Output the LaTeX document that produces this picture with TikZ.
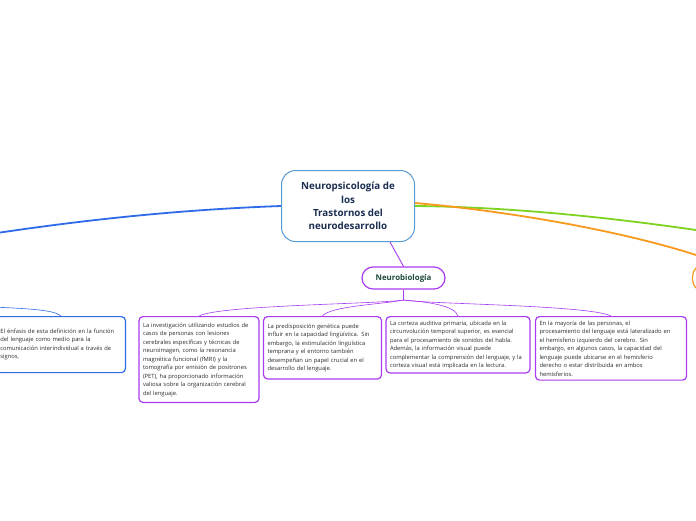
\documentclass[tikz,border=0pt]{standalone}
\usepackage{fontspec}
\setmainfont{Open Sans}
\usetikzlibrary{positioning,calc}
\definecolor{topicblue}{HTML}{5B9BD5}
\definecolor{titlenavy}{HTML}{1C2E52}
\definecolor{branchblue}{HTML}{2F6BE8}
\definecolor{branchgreen}{HTML}{7ED321}
\definecolor{branchorange}{HTML}{F79A1E}
\definecolor{branchviolet}{HTML}{A93BF2}
\definecolor{subgreen}{HTML}{1E4A3A}
\definecolor{notegray}{HTML}{2B2B2B}
\tikzset{
  notebox/.style={rectangle, rounded corners=4pt, draw=#1, line width=1.2pt, fill=white,
                  align=left, text=notegray, inner xsep=4pt, inner ysep=6pt,
                  font=\fontsize{5.8}{8.5}\selectfont},
  branch/.style={draw=#1, line width=1.8pt},
  twig/.style={draw=#1, line width=0.6pt},
}
\begin{document}
\begin{tikzpicture}[x=1pt, y=-1pt]
\useasboundingbox (0,0) rectangle (696,520);
\fill[white] (0,0) rectangle (696,520);
\clip (0,0) rectangle (696,520);
% central topic
\node[rectangle, rounded corners=14pt, draw=topicblue, line width=1pt, fill=white,
      minimum width=133pt, minimum height=71pt, align=center, text=titlenavy,
      font=\fontsize{9.8}{13.3}\selectfont\bfseries] (topic) at (348,206)
      {Neuropsicología de\\los\\Trastornos del\\neurodesarrollo};
% main branch ends outside the page
\coordinate (blueend) at (-60,242);
\coordinate (greenend) at (760,240);
\node[rectangle, rounded corners=11pt, draw=branchorange, line width=1.2pt, fill=white,
      minimum width=60pt, minimum height=26pt, anchor=west] (orangetopic) at (692,278) {};
\draw[branch=branchblue] (topic.west) .. controls (170,210) and (60,222) .. (blueend);
\draw[branch=branchgreen] (topic.east) .. controls (520,207) and (640,220) .. (greenend);
\draw[branch=branchorange] ([yshift=3pt]topic.east) .. controls (520,212) and (650,236) .. (orangetopic.north);
% Neurobiologia
\node[rectangle, rounded corners=11pt, draw=branchviolet, line width=1.2pt, fill=white,
      minimum width=83pt, minimum height=22pt, text=subgreen,
      font=\fontsize{7.9}{9}\selectfont\bfseries] (neuro) at (403.5,278) {Neurobiología};
\draw[twig=branchviolet, line width=0.9pt] ([xshift=42pt]topic.south) -- (neuro.north);
\coordinate (fork) at (403.5,300);
\draw[twig=branchviolet, line width=0.9pt] (neuro.south) -- (fork);
% notes
\node[notebox=branchblue, text width=121pt, anchor=north east, minimum height=56pt] (defnote) at (126,316)
  {El énfasis de esta definición en la función\\del lenguaje como medio para la\\comunicación interindividual a través de\\signos,};
\node[notebox=branchviolet, text width=112pt, anchor=north] (casenote) at (199,316)
  {La investigación utilizando estudios de\\casos de personas con lesiones\\cerebrales específicas y técnicas de\\neuroimagen, como la resonancia\\magnética funcional (fMRI) y la\\tomografía por emisión de positrones\\(PET), ha proporcionado información\\valiosa sobre la organización  cerebral\\del lenguaje.};
\node[notebox=branchviolet, text width=110pt, anchor=north, inner ysep=7pt] (genenote) at (322.5,316)
  {La predisposición genética puede\\influir en la capacidad lingüística. Sin\\embargo, la estimulación lingüística\\temprana y el entorno también\\desempeñan un papel crucial en el\\desarrollo del lenguaje.};
\node[notebox=branchviolet, text width=136pt, anchor=north, inner ysep=4pt] (cortexnote) at (458,316)
  {La corteza auditiva primaria, ubicada en la\\circunvolución temporal superior, es esencial\\para el procesamiento de sonidos del habla.\\Además, la información visual puede\\complementar la comprensión del lenguaje, y la\\corteza visual está implicada en la lectura.};
\node[notebox=branchviolet, text width=143pt, anchor=north, inner ysep=4pt] (sidenote) at (611,316)
  {En la mayoría de las personas, el\\procesamiento del lenguaje está lateralizado en\\el hemisferio izquierdo del cerebro. Sin\\embargo, en algunos casos, la capacidad del\\lenguaje puede ubicarse en el hemisferio\\derecho o estar distribuida en ambos\\hemisferios.};
% twigs
\coordinate (bluesub) at (-40,306);
\draw[twig=branchblue] (bluesub) .. controls (30,308) and (55,310) .. (defnote.north);
\draw[twig=branchviolet] (fork) .. controls (380,304) and (220,305) .. (casenote.north);
\draw[twig=branchviolet] (fork) .. controls (385,304) and (330,306) .. (genenote.north);
\draw[twig=branchviolet] (fork) .. controls (430,302) and (455,306) .. (cortexnote.north);
\draw[twig=branchviolet] (fork) .. controls (425,304) and (590,305) .. (sidenote.north);
\end{tikzpicture}
\end{document}
